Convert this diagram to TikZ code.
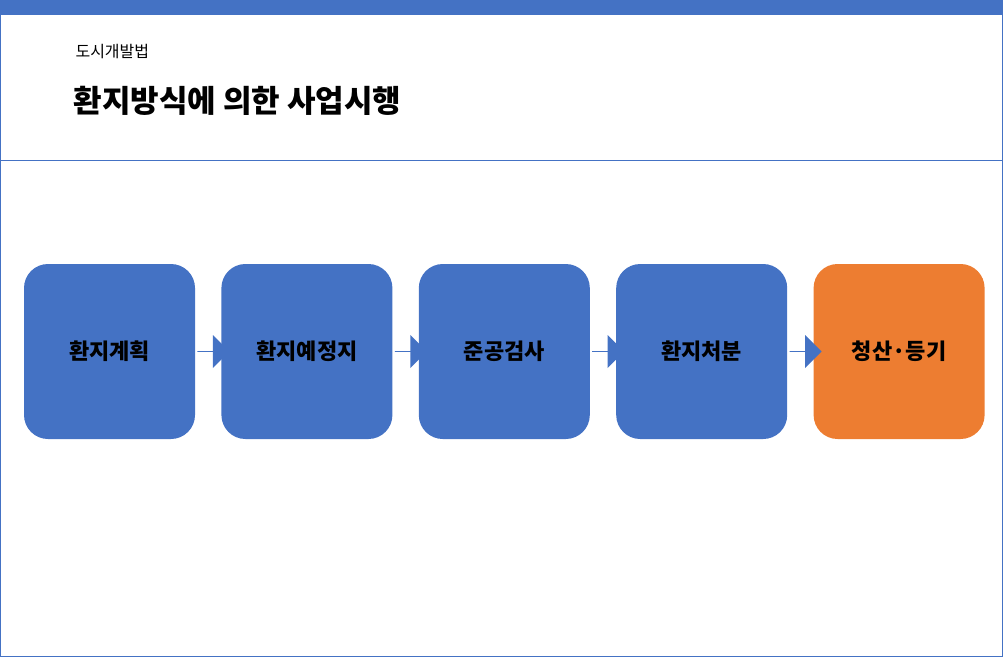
\documentclass[tikz,border=0pt]{standalone}
\usepackage{fontspec}
\setmainfont{Noto Sans CJK KR}
\usetikzlibrary{positioning,shapes.arrows}
\definecolor{stepblue}{HTML}{4472C4}
\definecolor{steporange}{HTML}{ED7D31}

\begin{document}
\begin{tikzpicture}[x=1pt,y=-1pt]
\tikzset{stepbox/.style={fill=stepblue,rounded corners=24pt,minimum width=171pt,minimum height=175pt,
            font=\bfseries\fontsize{22}{26}\selectfont,inner sep=0pt},
         flowarrow/.style={single arrow,fill=stepblue,minimum height=32pt,minimum width=33pt,
            single arrow head extend=7.5pt,inner sep=0pt}}
\useasboundingbox (0,0) rectangle (1008,662);
\draw[stepblue,line width=0.8pt] (0.5,0.5) rectangle (1002.5,656.5);
\fill[stepblue] (0,0) rectangle (1003,15);
\draw[stepblue,line width=0.8pt] (0,160) -- (1003,160);
\node[anchor=west,font=\fontsize{16}{18}\selectfont] (sub) at (72,52) {도시개발법};
\node[anchor=west,font=\bfseries\fontsize{31}{36}\selectfont] (title) at (70,101) {환지방식에 의한 사업시행};
% steps
\node[stepbox] (plan) at (109.5,351.5) {환지계획};
\node[stepbox,right=26pt of plan] (pre) {환지예정지};
\node[stepbox,right=26pt of pre] (check) {준공검사};
\node[stepbox,right=26pt of check] (disp) {환지처분};
\node[stepbox,fill=steporange,right=26pt of disp] (settle) {청산·등기};
\foreach \a/\b in {plan/pre,pre/check,check/disp,disp/settle}
  \node[flowarrow,anchor=west] (arr-\a) at ([xshift=2pt]\a.east) {};
\end{tikzpicture}
\end{document}
